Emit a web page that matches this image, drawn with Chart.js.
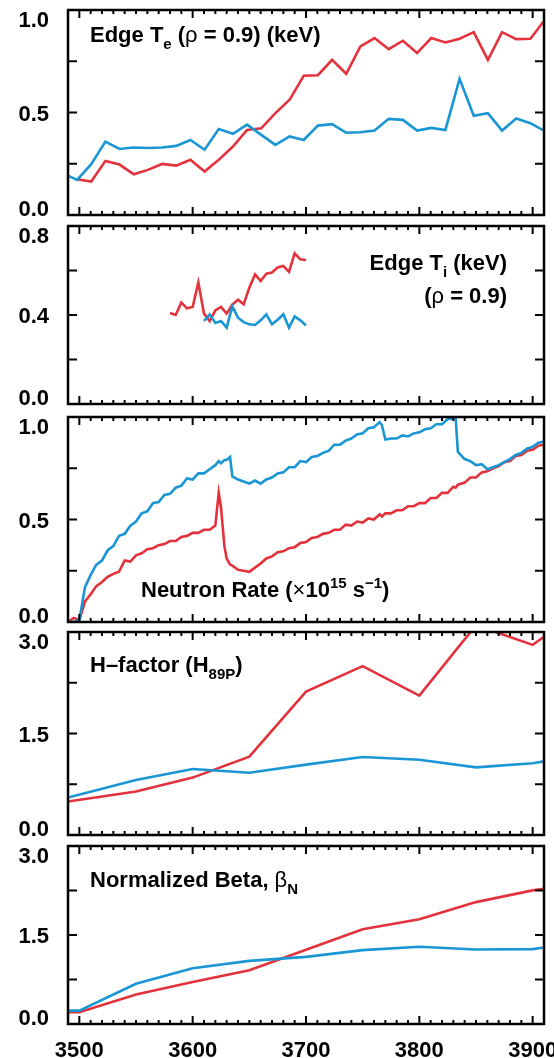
<!DOCTYPE html>
<html>
<head>
<meta charset="utf-8">
<script src="https://cdn.jsdelivr.net/npm/chart.js@4.4.1/dist/chart.umd.min.js"></script>
<style>
  html, body { margin: 0; padding: 0; background: #fff; }
  #wrap { position: relative; width: 554px; height: 1058px; overflow: hidden; }
  #wrap canvas { position: absolute; left: 0; }
</style>
</head>
<body>
<div id="wrap"></div>
<script>
const FONT = "'Liberation Sans', Arial, Helvetica, sans-serif";
const RED = '#e4323c';
const BLUE = '#1a96d4';

// Edge electron temperature at rho = 0.9 (keV)
const teTimes = [3490, 3498, 3510.5, 3523, 3535.5, 3548, 3560.5, 3573, 3585.5, 3598, 3610.5,
  3623, 3635.5, 3648, 3660.5, 3673, 3685.5, 3698, 3710.5, 3723, 3735.5, 3748, 3760.5,
  3773, 3785.5, 3798, 3810.5, 3823, 3835.5, 3848, 3860.5, 3873, 3885.5, 3898, 3910.5];
const teRed = [null, 0.174, 0.163, 0.264, 0.246, 0.199, 0.220, 0.249, 0.241, 0.269, 0.212,
  0.269, 0.334, 0.415, 0.423, 0.497, 0.562, 0.679, 0.682, 0.757, 0.689, 0.822, 0.863,
  0.809, 0.850, 0.790, 0.863, 0.842, 0.860, 0.892, 0.757, 0.892, 0.858, 0.860, 0.950];
const teBlue = [0.192, 0.171, 0.248, 0.358, 0.322, 0.329, 0.327, 0.329, 0.337, 0.366, 0.318,
  0.419, 0.396, 0.441, 0.391, 0.342, 0.383, 0.366, 0.436, 0.443, 0.401, 0.404, 0.412,
  0.469, 0.464, 0.412, 0.425, 0.415, 0.664, 0.484, 0.497, 0.412, 0.471, 0.448, 0.410];

// Edge ion temperature (keV)
const tiTimes = [3580, 3585, 3590, 3595, 3600, 3605, 3610, 3615, 3620, 3625, 3630, 3635, 3640,
  3645, 3650, 3655, 3660, 3665, 3670, 3675, 3680, 3685, 3690, 3695, 3700];
const tiRed = [0.409, 0.400, 0.456, 0.430, 0.436, 0.546, 0.406, 0.373, 0.421, 0.436, 0.406, 0.447, 0.469,
  0.448, 0.523, 0.582, 0.553, 0.586, 0.591, 0.614, 0.620, 0.594, 0.677, 0.650, 0.647];
const tiBlue = [null, null, null, null, null, null, 0.373, 0.403, 0.364, 0.373, 0.343, 0.439, 0.388,
  0.368, 0.358, 0.355, 0.376, 0.403, 0.358, 0.379, 0.403, 0.343, 0.394, 0.376, 0.353];

// Neutron rate (x10^15 /s)
const nTimes = [3490, 3495, 3500, 3505, 3510, 3515, 3520, 3525, 3530, 3535, 3540, 3545, 3550, 3555,
  3560, 3565, 3570, 3575, 3580, 3585, 3590, 3595, 3600, 3605, 3610, 3615, 3620, 3623, 3625, 3628,
  3630, 3633, 3635, 3640, 3645, 3650, 3655, 3660, 3665, 3670, 3675, 3680, 3685, 3690, 3695, 3700,
  3705, 3710, 3715, 3720, 3725, 3730, 3735, 3740, 3745, 3750, 3755, 3760, 3765, 3767, 3770, 3775,
  3780, 3785, 3790, 3795, 3800, 3805, 3810, 3815, 3820, 3825, 3830, 3832, 3834, 3840, 3845, 3850,
  3855, 3860, 3865, 3870, 3875, 3880, 3885, 3890, 3895, 3900, 3905, 3910];
const nBlue = [0.00, 0.00, 0.01, 0.17, 0.23, 0.28, 0.30, 0.35, 0.37, 0.42, 0.43, 0.47, 0.49, 0.53,
  0.54, 0.58, 0.585, 0.62, 0.625, 0.655, 0.665, 0.70, 0.695, 0.725, 0.725, 0.745, 0.765,
  0.785, 0.775, 0.79, 0.79, 0.805, 0.71,
  0.695, 0.685, 0.675, 0.69, 0.675, 0.695, 0.705, 0.725, 0.73, 0.755, 0.755, 0.785, 0.78,
  0.805, 0.81, 0.825, 0.835, 0.865, 0.865, 0.885, 0.895, 0.915, 0.92, 0.945, 0.95, 0.975,
  0.96, 0.89, 0.895, 0.895, 0.91, 0.905, 0.92, 0.925, 0.94, 0.945, 0.965, 0.965, 0.99, 0.99,
  1.00, 0.83,
  0.795, 0.785, 0.765, 0.77, 0.745, 0.755, 0.765, 0.78, 0.795, 0.815, 0.825, 0.845, 0.855, 0.875, 0.88];
const nRed = [0.00, 0.02, 0.01, 0.10, 0.135, 0.175, 0.195, 0.22, 0.235, 0.245, 0.30, 0.295, 0.325, 0.335,
  0.355, 0.36, 0.375, 0.38, 0.395, 0.395, 0.415, 0.42, 0.435, 0.435, 0.45, 0.45, 0.47,
  0.63, 0.56, 0.37, 0.31, 0.28, 0.275,
  0.255, 0.25, 0.245, 0.265, 0.285, 0.31, 0.32, 0.34, 0.345, 0.36, 0.365, 0.385, 0.39,
  0.41, 0.415, 0.43, 0.435, 0.45, 0.45, 0.475, 0.47, 0.49, 0.485, 0.505, 0.50, 0.525,
  0.515, 0.53, 0.53, 0.545, 0.545, 0.565, 0.565, 0.58, 0.58, 0.605, 0.605, 0.63, 0.63, 0.66,
  0.655, 0.67,
  0.68, 0.705, 0.705, 0.73, 0.735, 0.75, 0.76, 0.78, 0.785, 0.81, 0.815, 0.835, 0.84, 0.86, 0.865];

// H-factor (H89P)
const hTimes = [3490, 3550, 3600, 3650, 3700, 3750, 3800, 3850, 3900, 3910];
const hRed = [0.495, 0.642, 0.848, 1.157, 2.12, 2.495, 2.06, 3.10, 2.81, 2.93];
const hBlue = [0.554, 0.814, 0.975, 0.92, 1.04, 1.152, 1.113, 1.0, 1.06, 1.088];

// Normalized beta
const bTimes = [3490, 3500, 3550, 3600, 3650, 3700, 3750, 3800, 3850, 3900, 3910];
const bRed = [0.198, 0.198, 0.498, 0.707, 0.905, 1.25, 1.596, 1.766, 2.054, 2.252, 2.28];
const bBlue = [0.226, 0.226, 0.679, 0.939, 1.064, 1.132, 1.245, 1.302, 1.256, 1.262, 1.29];

const X_MIN = 3490, X_MAX = 3910;

// text styles for the panel captions
const B = { size: 22, weight: 'bold', dy: 0 };
const SUB = { size: 15, weight: 'bold', dy: 7 };
const SUP = { size: 15, weight: 'bold', dy: -9 };
const G = { size: 22, weight: 'normal', dy: 0 };

function drawRich(ctx, parts, x, y, align) {
  const font = s => `${s.weight} ${s.size}px ${FONT}`;
  let w = 0;
  parts.forEach(([t, s]) => { ctx.font = font(s); w += ctx.measureText(t).width; });
  let cx = align === 'right' ? x - w : x;
  ctx.textAlign = 'left';
  ctx.textBaseline = 'alphabetic';
  parts.forEach(([t, s]) => {
    ctx.font = font(s);
    ctx.fillText(t, cx, y + s.dy);
    cx += ctx.measureText(t).width;
  });
}

function pts(times, vals) {
  return times.map((t, i) => ({ x: t, y: vals[i] }));
}

// frame, inward ticks, y labels and caption
function framePlugin(cfg) {
  return {
    id: 'frameAxes',
    afterDraw(chart) {
      const { ctx, chartArea: a, scales: { x, y } } = chart;
      ctx.save();
      ctx.strokeStyle = '#000';
      ctx.lineWidth = 2;
      ctx.beginPath();
      for (let v = X_MIN; v <= X_MAX; v += 10) {
        const px = x.getPixelForValue(v);
        const len = v % 100 === 0 ? 8 : 4;
        ctx.moveTo(px, a.bottom); ctx.lineTo(px, a.bottom - len);
        ctx.moveTo(px, a.top); ctx.lineTo(px, a.top + len);
      }
      for (let v = cfg.step; v < cfg.max - 1e-6; v += cfg.step) {
        const py = y.getPixelForValue(v);
        ctx.moveTo(a.left, py); ctx.lineTo(a.left + 9, py);
        ctx.moveTo(a.right, py); ctx.lineTo(a.right - 9, py);
      }
      ctx.stroke();
      ctx.lineWidth = 2.5;
      ctx.strokeRect(a.left, a.top, a.right - a.left, a.bottom - a.top);

      ctx.fillStyle = '#000';
      ctx.font = `bold 22px ${FONT}`;
      ctx.textAlign = 'right';
      ctx.textBaseline = 'alphabetic';
      for (let v = 0; v <= cfg.max + 1e-6; v += cfg.labelStep) {
        let py = y.getPixelForValue(v);
        if (v < 1e-6) py -= 7;
        else if (v > cfg.max - 1e-6) py += 9;
        ctx.fillText(v.toFixed(1), 49, py + 8);
      }
      cfg.caption(ctx, a);
      ctx.restore();
    }
  };
}

const frames = [[10, 215], [226, 404], [417, 622], [632, 835], [846, 1024]];

const panels = [
  {
    max: 1.0, step: 0.25, labelStep: 0.5,
    datasets: [[teTimes, teBlue, BLUE], [teTimes, teRed, RED]],
    caption: (ctx, a) => drawRich(ctx, [['Edge T', B], ['e', SUB], [' (', B], ['\u03c1', G], [' = 0.9) (keV)', B]], 90, a.top + 32)
  },
  {
    max: 0.8, step: 0.2, labelStep: 0.4,
    datasets: [[tiTimes, tiBlue, BLUE], [tiTimes, tiRed, RED]],
    caption: (ctx, a) => {
      drawRich(ctx, [['Edge T', B], ['i', SUB], [' (keV)', B]], 507, a.top + 44, 'right');
      drawRich(ctx, [['(', B], ['\u03c1', G], [' = 0.9)', B]], 507, a.top + 77, 'right');
    }
  },
  {
    max: 1.0, step: 0.25, labelStep: 0.5,
    datasets: [[nTimes, nBlue, BLUE], [nTimes, nRed, RED]],
    caption: (ctx, a) => drawRich(ctx, [['Neutron Rate (', B], ['\u00d7', G], ['10', B], ['15', SUP], [' s', B], ['\u22121', SUP], [')', B]], 141, a.top + 180)
  },
  {
    max: 3.0, step: 0.75, labelStep: 1.5,
    datasets: [[hTimes, hBlue, BLUE], [hTimes, hRed, RED]],
    caption: (ctx, a) => drawRich(ctx, [['H\u2013factor (H', B], ['89P', SUB], [')', B]], 90, a.top + 40)
  },
  {
    max: 3.0, step: 0.75, labelStep: 1.5,
    datasets: [[bTimes, bBlue, BLUE], [bTimes, bRed, RED]],
    caption: (ctx, a) => drawRich(ctx, [['Normalized Beta, ', B], ['\u03b2', G], ['N', SUB]], 90, a.top + 41)
  }
];

const wrap = document.getElementById('wrap');

panels.forEach((p, i) => {
  const last = i === panels.length - 1;
  const [fTop, fBottom] = frames[i];
  const top = fTop - 8;
  const bottom = last ? 1058 : fBottom + 8;
  const canvas = document.createElement('canvas');
  canvas.width = 554;
  canvas.height = bottom - top;
  canvas.style.top = top + 'px';
  wrap.appendChild(canvas);

  const xScale = {
    type: 'linear', min: X_MIN, max: X_MAX, display: last,
    grid: { display: false },
    border: { display: false },
    ticks: {
      stepSize: 100, includeBounds: false, autoSkip: false, maxRotation: 0,
      color: '#000', padding: 6,
      font: { family: FONT, size: 22, weight: 'bold' },
      callback: v => String(v)
    }
  };
  if (last) {
    xScale.afterFit = s => { s.height = 34; s.paddingLeft = 0; s.paddingRight = 0; };
  }

  new Chart(canvas, {
    type: 'line',
    data: {
      datasets: p.datasets.map(([t, v, c]) => ({
        data: pts(t, v),
        borderColor: c,
        borderWidth: 2.6,
        pointRadius: 0,
        tension: 0,
        spanGaps: false
      }))
    },
    options: {
      responsive: false,
      animation: false,
      events: [],
      layout: { padding: { left: 68, right: 10, top: 8, bottom: last ? 0 : 8 } },
      plugins: { legend: { display: false }, tooltip: { enabled: false } },
      scales: {
        x: xScale,
        y: { type: 'linear', min: 0, max: p.max, display: false }
      }
    },
    plugins: [framePlugin(p)]
  });
});
</script>
</body>
</html>
